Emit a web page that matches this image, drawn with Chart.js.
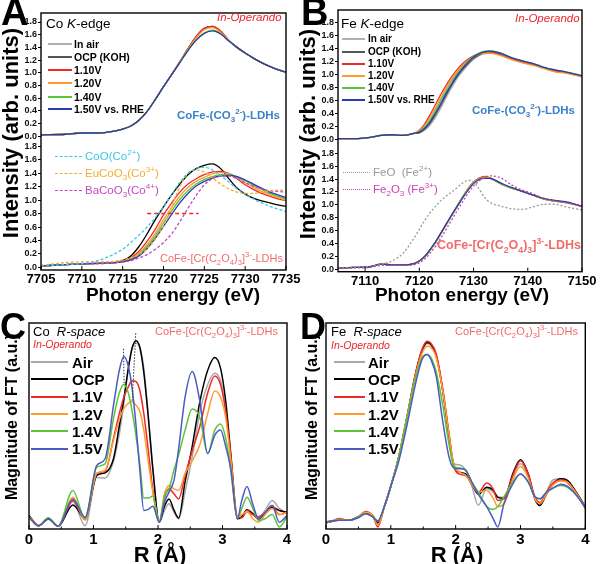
<!DOCTYPE html>
<html><head><meta charset="utf-8">
<script src="https://cdn.jsdelivr.net/npm/chart.js@4.4.1/dist/chart.umd.min.js"></script>
<style>
html,body{margin:0;padding:0;background:#fff;}
#wrap{position:relative;width:600px;height:564px;overflow:hidden;font-family:"Liberation Sans",Arial,sans-serif;color:#000;}
canvas{position:absolute;}
.t{position:absolute;white-space:nowrap;line-height:1;}
.ln{position:absolute;height:0;}
sub,sup{font-size:70%;line-height:0;}
</style></head><body>
<div id="wrap">
<canvas id="cA" width="310" height="292" style="left:0;top:0;width:310px;height:292px"></canvas>
<canvas id="cB" width="300" height="292" style="left:300px;top:0;width:300px;height:292px"></canvas>
<canvas id="cC" width="300" height="264" style="left:0;top:300px;width:300px;height:264px"></canvas>
<canvas id="cD" width="300" height="264" style="left:300px;top:300px;width:300px;height:264px"></canvas>
</div>
<script>
// ---------------- DATA ----------------
// Panel A (Co K-edge), photon energy grid (eV)
const xA = [7705,7708,7710,7712,7714,7715,7716,7717,7718,7719,7720,7721,7722,7723,7724,7725,7726,7727,7728,7729,7730,7731,7732,7733,7734,7735];
const xTicksA = [7705,7710,7715,7720,7725,7730,7735];
const yTicksK = [0,0.2,0.4,0.6,0.8,1.0,1.2,1.4,1.6,1.8];
// A top: CoFe-(CO3)-LDHs
const aTopAir    = [0.02,0.03,0.05,0.05,0.08,0.11,0.16,0.25,0.39,0.58,0.78,0.97,1.17,1.38,1.56,1.69,1.72,1.65,1.51,1.40,1.31,1.23,1.16,1.10,1.05,1.01];
const aTopOCP    = [0.02,0.03,0.05,0.05,0.08,0.11,0.16,0.25,0.39,0.58,0.78,0.97,1.17,1.38,1.57,1.70,1.73,1.65,1.51,1.40,1.31,1.23,1.16,1.10,1.05,1.01];
const aTop110    = [0.02,0.03,0.05,0.05,0.08,0.11,0.16,0.25,0.39,0.58,0.78,0.97,1.17,1.38,1.57,1.70,1.73,1.66,1.51,1.40,1.31,1.23,1.16,1.10,1.05,1.01];
const aTop120    = [0.02,0.03,0.05,0.05,0.08,0.11,0.16,0.25,0.39,0.58,0.78,0.97,1.17,1.37,1.55,1.68,1.71,1.64,1.51,1.40,1.31,1.23,1.16,1.10,1.05,1.01];
const aTop140    = [0.02,0.03,0.05,0.05,0.08,0.11,0.16,0.25,0.39,0.58,0.78,0.97,1.16,1.36,1.52,1.63,1.67,1.62,1.50,1.40,1.31,1.23,1.16,1.10,1.05,1.01];
const aTop150    = [0.02,0.03,0.05,0.05,0.08,0.11,0.16,0.25,0.39,0.58,0.78,0.97,1.16,1.35,1.51,1.62,1.66,1.61,1.50,1.40,1.31,1.23,1.16,1.10,1.05,1.01];
// A bottom: CoFe-[Cr(C2O4)3]-LDHs and references
const aBotOCP    = [0.02,0.04,0.05,0.06,0.07,0.10,0.17,0.31,0.50,0.71,0.90,1.08,1.24,1.38,1.47,1.52,1.54,1.47,1.32,1.18,1.09,1.03,0.99,0.96,0.93,0.91];
const aBot110    = [0.02,0.04,0.05,0.06,0.07,0.09,0.14,0.24,0.39,0.57,0.78,0.96,1.12,1.24,1.32,1.38,1.42,1.43,1.40,1.32,1.23,1.16,1.10,1.06,1.02,0.99];
const aBot120    = [0.02,0.04,0.05,0.06,0.07,0.09,0.13,0.21,0.34,0.51,0.71,0.89,1.06,1.19,1.28,1.34,1.39,1.41,1.40,1.34,1.26,1.19,1.13,1.08,1.04,1.00];
const aBot140    = [0.02,0.04,0.05,0.06,0.07,0.08,0.12,0.19,0.31,0.47,0.66,0.84,1.01,1.14,1.24,1.31,1.35,1.38,1.38,1.35,1.29,1.22,1.16,1.10,1.06,1.02];
const aBot150    = [0.02,0.04,0.05,0.06,0.07,0.08,0.11,0.17,0.28,0.43,0.61,0.79,0.96,1.10,1.21,1.28,1.33,1.36,1.37,1.35,1.30,1.24,1.18,1.12,1.08,1.04];
const aCoO       = [0.02,0.04,0.06,0.10,0.20,0.27,0.37,0.48,0.60,0.74,0.90,1.08,1.27,1.40,1.47,1.49,1.45,1.37,1.27,1.17,1.09,1.02,0.96,0.91,0.87,0.83];
const aEuCoO3    = [0.03,0.07,0.08,0.08,0.09,0.11,0.14,0.19,0.28,0.42,0.62,0.90,1.20,1.40,1.45,1.42,1.33,1.24,1.17,1.12,1.10,1.10,1.12,1.14,1.15,1.15];
const aBaCoO3    = [0.02,0.04,0.05,0.05,0.07,0.08,0.10,0.14,0.19,0.27,0.37,0.50,0.68,0.88,1.07,1.23,1.32,1.36,1.36,1.32,1.26,1.21,1.17,1.14,1.13,1.12];
const aGuideX    = [7718,7724.3];
const aGuideY    = [0.8,0.8];

// Panel B (Fe K-edge)
const xB = [7105,7108,7111,7113,7115,7117,7119,7120,7121,7122,7123,7124,7125,7126,7127,7128,7129,7130,7131,7132,7133,7135,7137,7139,7141,7143,7145,7147,7150];
const xTicksB = [7110,7120,7130,7140,7150];
const bTopAir = [0.01,0.01,0.03,0.06,0.07,0.06,0.09,0.10,0.14,0.22,0.34,0.49,0.65,0.80,0.94,1.05,1.15,1.23,1.29,1.32,1.33,1.31,1.25,1.20,1.16,1.10,1.06,1.03,0.97];
const bTopOCP = [0.01,0.01,0.03,0.06,0.07,0.06,0.09,0.10,0.16,0.25,0.38,0.53,0.69,0.84,0.97,1.08,1.17,1.25,1.30,1.34,1.35,1.32,1.25,1.20,1.16,1.10,1.06,1.03,0.97];
const bTop110 = [0.01,0.01,0.03,0.06,0.07,0.06,0.09,0.14,0.24,0.38,0.54,0.70,0.84,0.97,1.08,1.17,1.24,1.29,1.32,1.34,1.34,1.30,1.24,1.19,1.15,1.10,1.05,1.03,0.97];
const bTop120 = [0.01,0.01,0.03,0.06,0.07,0.06,0.09,0.13,0.21,0.34,0.49,0.65,0.80,0.93,1.05,1.14,1.22,1.27,1.31,1.33,1.33,1.29,1.23,1.18,1.14,1.09,1.04,1.02,0.96];
const bTop140 = [0.01,0.01,0.03,0.06,0.07,0.06,0.09,0.12,0.19,0.30,0.45,0.61,0.76,0.90,1.02,1.12,1.21,1.28,1.33,1.36,1.37,1.33,1.26,1.21,1.17,1.11,1.07,1.04,0.98];
const bTop150 = [0.01,0.01,0.03,0.06,0.07,0.06,0.09,0.11,0.17,0.27,0.41,0.56,0.72,0.86,0.99,1.10,1.19,1.27,1.32,1.35,1.36,1.33,1.26,1.21,1.17,1.11,1.07,1.04,0.98];
const bBotOCP = [0.02,0.03,0.04,0.08,0.07,0.07,0.09,0.13,0.20,0.30,0.42,0.56,0.70,0.84,0.98,1.12,1.25,1.35,1.41,1.43,1.42,1.33,1.26,1.21,1.15,1.09,1.06,1.04,0.98];
const bBot110 = [0.02,0.03,0.04,0.08,0.07,0.07,0.09,0.13,0.20,0.30,0.42,0.56,0.70,0.84,0.98,1.12,1.25,1.35,1.41,1.44,1.42,1.33,1.26,1.21,1.15,1.09,1.06,1.04,0.98];
const bBot120 = [0.02,0.03,0.04,0.08,0.07,0.07,0.09,0.13,0.20,0.30,0.42,0.56,0.70,0.84,0.98,1.12,1.25,1.35,1.40,1.43,1.41,1.33,1.26,1.21,1.15,1.09,1.06,1.04,0.97];
const bBot140 = [0.02,0.03,0.04,0.08,0.07,0.07,0.09,0.13,0.20,0.30,0.42,0.56,0.70,0.84,0.98,1.12,1.24,1.34,1.40,1.42,1.41,1.33,1.26,1.21,1.15,1.09,1.06,1.04,0.98];
const bBot150 = [0.02,0.03,0.04,0.08,0.07,0.07,0.09,0.13,0.20,0.31,0.43,0.57,0.71,0.85,0.98,1.11,1.23,1.33,1.39,1.41,1.41,1.34,1.27,1.21,1.15,1.10,1.07,1.05,0.98];
const bFeO    = [0.02,0.03,0.05,0.08,0.13,0.25,0.48,0.62,0.76,0.88,0.98,1.07,1.14,1.20,1.27,1.34,1.38,1.36,1.25,1.12,1.04,0.98,0.94,0.93,0.97,1.01,1.01,0.97,0.92];
const bFe2O3  = [0.01,0.02,0.03,0.06,0.06,0.06,0.07,0.10,0.16,0.25,0.36,0.49,0.63,0.77,0.91,1.05,1.18,1.29,1.37,1.42,1.45,1.42,1.31,1.23,1.17,1.10,1.06,1.03,0.98];

// Panel C (Co R-space), R grid (Å), magnitude in arbitrary units
const rC = [0,0.15,0.30,0.45,0.68,0.87,1.05,1.18,1.31,1.40,1.47,1.54,1.60,1.66,1.72,1.78,1.85,1.92,2.02,2.10,2.17,2.25,2.32,2.42,2.53,2.65,2.77,2.88,2.97,3.05,3.13,3.23,3.30,3.38,3.47,3.56,3.66,3.77,3.88,4.0];
const xTicksR = [0,1,2,3,4];
const cAir = [0.65,0.16,0.49,0.13,1.33,0.16,2.5,2.47,3.3,4.6,6.1,7.8,8.8,9.02,8.8,7.8,5.5,3.0,0.33,0.9,1.22,0.8,0.49,1.8,3.5,5.7,7.0,7.56,7.2,5.8,3.3,0.5,0.55,0.81,0.7,0.55,0.9,1.38,1.0,0.75];
const cOCP = [0.65,0.16,0.49,0.13,1.17,0.52,2.6,2.73,3.41,5.0,6.3,7.8,8.8,9.14,8.8,7.6,5.4,2.9,0.33,1.1,1.46,0.9,0.54,2.3,4.0,6.2,7.7,8.33,7.8,6.2,3.6,0.5,0.6,0.93,0.75,0.49,0.75,1.06,0.9,0.81];
const c110 = [0.6,0.16,0.52,0.13,1.38,0.45,2.7,2.8,4.4,5.6,6.4,6.9,7.2,7.15,6.7,5.6,3.8,1.9,0.35,1.5,1.95,1.7,1.46,2.6,3.8,5.0,6.6,7.43,7.0,5.7,3.5,0.6,0.55,0.9,0.7,0.6,0.8,1.14,0.7,0.8];
const c120 = [0.6,0.16,0.52,0.13,1.54,0.45,2.7,2.85,4.3,5.3,5.85,6.1,6.18,6.0,5.69,4.8,3.25,1.8,0.35,1.7,2.11,1.95,1.87,2.7,3.3,4.1,5.6,6.7,6.4,5.4,3.3,0.6,0.7,0.85,0.5,0.33,0.7,1.0,0.7,0.8];
const c140 = [0.55,0.16,0.55,0.13,1.87,0.5,3.0,3.17,5.37,6.6,7.02,6.6,5.7,4.5,3.1,1.5,1.5,1.6,0.35,1.6,1.95,2.9,3.6,4.8,5.82,5.4,3.66,4.8,5.1,4.4,2.8,0.5,1.0,1.54,1.0,0.41,0.5,0.7,0.1,0.6];
const c150 = [0.57,0.16,0.5,0.13,1.46,0.57,3.09,3.41,6.0,7.7,8.37,7.9,6.8,5.0,2.8,0.9,0.95,1.1,0.33,1.3,1.79,2.4,3.9,6.4,7.64,6.18,3.66,4.55,4.8,4.0,2.9,0.5,1.4,2.06,1.2,0.49,0.8,1.14,0.33,0.65];
const cGuide1X = [1.465,1.475], cGuide1Y = [8.75,7.0];
const cGuide2X = [1.655,1.60],  cGuide2Y = [9.5,6.2];

// Panel D (Fe R-space)
const rD = [0,0.1,0.2,0.35,0.5,0.61,0.72,0.80,0.9,1.0,1.12,1.25,1.38,1.48,1.56,1.62,1.70,1.80,1.90,1.97,2.05,2.15,2.25,2.35,2.48,2.58,2.65,2.75,2.88,3.0,3.12,3.22,3.30,3.40,3.50,3.62,3.72,3.85,4.0];
const dAir = [0.22,0.28,0.33,0.33,0.5,0.7,0.55,0.25,1.0,2.0,3.41,5.4,7.4,8.6,9.0,8.9,8.4,6.7,4.5,3.1,3.05,2.8,2.0,1.06,1.9,1.7,1.5,1.45,2.5,3.1,2.5,1.4,1.1,1.7,2.3,2.36,2.2,1.7,0.95];
const dOCP = [0.2,0.28,0.35,0.33,0.5,0.7,0.55,0.2,1.0,2.0,3.41,5.4,7.5,8.65,9.05,8.95,8.4,6.7,4.4,3.0,2.7,2.6,2.1,1.6,1.95,1.8,1.45,1.4,2.6,3.3,2.6,1.4,1.05,1.6,2.1,2.36,2.3,1.75,1.0];
const d110 = [0.2,0.3,0.41,0.33,0.5,0.76,0.55,0.0,1.0,2.0,3.41,5.4,7.5,8.7,9.1,9.0,8.5,6.8,4.5,3.0,2.6,2.52,2.1,1.7,2.15,1.85,1.3,1.4,2.5,3.25,2.6,1.5,1.2,1.7,2.15,2.3,2.2,1.7,0.9];
const d120 = [0.2,0.3,0.38,0.33,0.5,0.72,0.55,0.1,1.0,2.0,3.41,5.4,7.4,8.5,8.86,8.8,8.3,6.7,4.5,3.1,2.7,2.55,2.1,1.7,1.8,1.4,1.0,1.15,2.3,2.96,2.4,1.4,1.15,1.6,2.05,2.25,2.2,1.7,0.95];
const d140 = [0.25,0.3,0.33,0.33,0.5,0.65,0.5,0.3,1.0,2.0,3.41,5.4,7.3,8.3,8.46,8.3,7.6,6.0,4.0,3.0,2.9,2.8,2.2,1.7,1.0,0.85,1.0,1.5,2.2,2.6,2.2,1.5,1.38,1.7,1.9,2.03,1.95,1.6,1.0];
const d150 = [0.25,0.3,0.33,0.33,0.45,0.65,0.5,0.29,1.0,2.0,3.2,5.0,7.0,8.2,8.46,8.2,7.4,5.2,3.4,2.9,2.85,2.8,2.2,1.6,1.0,0.4,0.0,1.2,2.1,2.6,2.2,1.5,1.38,1.7,1.9,2.1,2.0,1.6,0.95];

// ---------------- STYLE ----------------
const COL = {air:'#b0b0b0', ocp:'#222222', v110:'#f02828', v120:'#ff9a2e', v140:'#5cc43c', v150:'#2b3cb0',
  v150r:'#4a5cc4', cyan:'#3fc6e4', eu:'#f5ae2a', ba:'#c24ac4', feo:'#999999', fe2o3:'#d040b0',
  red:'#e8262c', blueTxt:'#3b82c8', salmon:'#f26b6b'};
Chart.defaults.font.family = '"Liberation Sans", Arial, sans-serif';
Chart.defaults.color = '#000';

function lineDs(label, xs, ys, color, yAxisID, extra) {
  return Object.assign({label, data: xs.map((x,i)=>({x:x, y:ys[i]})), borderColor: color, backgroundColor: color,
    borderWidth: 1.3, pointRadius: 0, pointHoverRadius: 0, fill: false, cubicInterpolationMode: 'monotone', yAxisID}, extra||{});
}
function fixedTicks(arr){ return s => { s.ticks = arr.map(v=>({value:v})); }; }
function kAxis(min,max,weight,width){
  return {type:'linear', position:'left', stack:'k', stackWeight:weight, min:min, max:max,
    afterBuildTicks: fixedTicks(yTicksK), afterFit: s=>{ s.width = width; },
    border:{display:false},
    grid:{display:true, drawOnChartArea:false, drawTicks:true, tickLength:3, color:'#000', lineWidth:1},
    ticks:{autoSkip:false, padding:1, font:{size:9, weight:'bold'}, color:'#111', callback: v=>Number(v).toFixed(1)}};
}
function xAxis(min,max,ticks,height,fs){
  return {type:'linear', min:min, max:max, afterBuildTicks: fixedTicks(ticks), afterFit: s=>{ s.height = height; },
    border:{display:false}, grid:{display:false, drawTicks:false},
    ticks:{autoSkip:false, maxRotation:0, padding:2, font:{size:fs, weight:'bold'}, color:'#000', callback: v=>String(v)}};
}
function rYAxis(min,max,width){
  return {type:'linear', position:'left', min:min, max:max, afterFit: s=>{ s.width = width; },
    border:{display:false}, grid:{display:false, drawTicks:false}, ticks:{display:false}};
}
const framePlugin = {
  id:'frame',
  afterDraw(chart, args, opts){
    const ctx = chart.ctx, a = chart.chartArea, xs = chart.scales.x;
    ctx.save();
    ctx.strokeStyle = '#000'; ctx.lineWidth = 1.4;
    ctx.strokeRect(a.left, a.top, a.right-a.left, a.bottom-a.top);
    ctx.lineWidth = 1;
    (opts.major||[]).forEach(v=>{ const p = xs.getPixelForValue(v); ctx.beginPath(); ctx.moveTo(p,a.bottom); ctx.lineTo(p,a.bottom-4); ctx.stroke(); });
    (opts.minor||[]).forEach(v=>{ const p = xs.getPixelForValue(v); ctx.beginPath(); ctx.moveTo(p,a.bottom); ctx.lineTo(p,a.bottom-2.5); ctx.stroke(); });
    ctx.restore();
  }
};
function baseOpts(padding, scales, frameOpts){
  return {responsive:false, animation:false, events:[], layout:{padding:padding},
    plugins:{legend:{display:false}, tooltip:{enabled:false}, frame:frameOpts}, scales:scales};
}
const dash = {borderDash:[3,2]};
const dot = {borderDash:[2,2]};

// ---------------- CHART A ----------------
new Chart(document.getElementById('cA'), {
  type:'line',
  data:{datasets:[
    lineDs('1.50V vs. RHE', xA, aTop150, COL.v150, 'yTop'),
    lineDs('1.40V', xA, aTop140, COL.v140, 'yTop'),
    lineDs('1.20V', xA, aTop120, COL.v120, 'yTop'),
    lineDs('1.10V', xA, aTop110, COL.v110, 'yTop'),
    lineDs('OCP (KOH)', xA, aTopOCP, COL.ocp, 'yTop'),
    lineDs('In air', xA, aTopAir, COL.air, 'yTop'),
    lineDs('guide', aGuideX, aGuideY, COL.v110, 'yBot', {borderDash:[4,3], borderWidth:1.5}),
    lineDs('CoO(Co2+)', xA, aCoO, COL.cyan, 'yBot', dash),
    lineDs('EuCoO3(Co3+)', xA, aEuCoO3, COL.eu, 'yBot', dash),
    lineDs('BaCoO3(Co4+)', xA, aBaCoO3, COL.ba, 'yBot', dash),
    lineDs('1.50V', xA, aBot150, COL.v150, 'yBot'),
    lineDs('1.40V', xA, aBot140, COL.v140, 'yBot'),
    lineDs('1.20V', xA, aBot120, COL.v120, 'yBot'),
    lineDs('1.10V', xA, aBot110, COL.v110, 'yBot'),
    lineDs('OCP', xA, aBotOCP, '#000', 'yBot')
  ]},
  options: baseOpts({left:0, right:24, top:13, bottom:0},
    {x: xAxis(7705,7735,xTicksA,22,13), yBot: kAxis(-0.04,1.894,130,41), yTop: kAxis(-0.063,1.942,127.3,41)},
    {major:xTicksA}),
  plugins:[framePlugin]
});

// ---------------- CHART B ----------------
new Chart(document.getElementById('cB'), {
  type:'line',
  data:{datasets:[
    lineDs('1.50V vs. RHE', xB, bTop150, COL.v150, 'yTop'),
    lineDs('1.40V', xB, bTop140, COL.v140, 'yTop'),
    lineDs('1.20V', xB, bTop120, COL.v120, 'yTop'),
    lineDs('1.10V', xB, bTop110, COL.v110, 'yTop'),
    lineDs('OCP (KOH)', xB, bTopOCP, '#555', 'yTop'),
    lineDs('In air', xB, bTopAir, COL.air, 'yTop'),
    lineDs('Fe2O3 (Fe3+)', xB, bFe2O3, COL.fe2o3, 'yBot', dot),
    lineDs('FeO (Fe2+)', xB, bFeO, COL.feo, 'yBot', dot),
    lineDs('1.50V', xB, bBot150, COL.v150, 'yBot'),
    lineDs('1.40V', xB, bBot140, COL.v140, 'yBot'),
    lineDs('1.20V', xB, bBot120, COL.v120, 'yBot'),
    lineDs('1.10V', xB, bBot110, COL.v110, 'yBot'),
    lineDs('OCP', xB, bBotOCP, '#555', 'yBot')
  ]},
  options: baseOpts({left:0, right:18, top:10, bottom:0},
    {x: xAxis(7105,7150,xTicksB,20.3,13), yBot: kAxis(-0.037,1.929,126.7,38), yTop: kAxis(-0.088,1.996,135,38)},
    {major:xTicksB}),
  plugins:[framePlugin]
});

// ---------------- CHART C ----------------
new Chart(document.getElementById('cC'), {
  type:'line',
  data:{datasets:[
    lineDs('g1', cGuide1X, cGuide1Y, '#333', 'y', {borderDash:[1.5,1.5], borderWidth:1, cubicInterpolationMode:'default', tension:0}),
    lineDs('g2', cGuide2X, cGuide2Y, '#333', 'y', {borderDash:[1.5,1.5], borderWidth:1, cubicInterpolationMode:'default', tension:0}),
    lineDs('1.5V', rC, c150, COL.v150r, 'y', {borderWidth:1.5}),
    lineDs('1.4V', rC, c140, COL.v140, 'y', {borderWidth:1.5}),
    lineDs('1.2V', rC, c120, COL.v120, 'y', {borderWidth:1.5}),
    lineDs('1.1V', rC, c110, COL.v110, 'y', {borderWidth:1.5}),
    lineDs('OCP', rC, cOCP, '#000', 'y', {borderWidth:1.5}),
    lineDs('Air', rC, cAir, '#a8a8a8', 'y', {borderWidth:1.5})
  ]},
  options: baseOpts({left:0, right:13, top:23, bottom:0},
    {x: xAxis(0,4,xTicksR,35,15), y: rYAxis(0,10,29)},
    {major:xTicksR, minor:[0.5,1.5,2.5,3.5]}),
  plugins:[framePlugin]
});

// ---------------- CHART D ----------------
new Chart(document.getElementById('cD'), {
  type:'line',
  data:{datasets:[
    lineDs('1.5V', rD, d150, COL.v150r, 'y', {borderWidth:1.5}),
    lineDs('1.4V', rD, d140, COL.v140, 'y', {borderWidth:1.5}),
    lineDs('1.2V', rD, d120, COL.v120, 'y', {borderWidth:1.5}),
    lineDs('1.1V', rD, d110, COL.v110, 'y', {borderWidth:1.5}),
    lineDs('OCP', rD, dOCP, '#000', 'y', {borderWidth:1.5}),
    lineDs('Air', rD, dAir, '#a8a8a8', 'y', {borderWidth:1.5})
  ]},
  options: baseOpts({left:0, right:14.7, top:23, bottom:0},
    {x: xAxis(0,4,xTicksR,35,15), y: rYAxis(-0.1,10,26)},
    {major:xTicksR, minor:[0.5,1.5,2.5,3.5]}),
  plugins:[framePlugin]
});

// ---------------- TEXT OVERLAYS ----------------
const wrap = document.getElementById('wrap');
function T(x, base, fs, html, css, center){
  const d = document.createElement('div'); d.className = 't'; d.innerHTML = html;
  d.style.cssText = 'left:'+x+'px;top:'+(base-0.85*fs)+'px;font-size:'+fs+'px;'+(css||'')+(center?'transform:translateX(-50%);':'');
  wrap.appendChild(d);
}
function V(cx, cy, fs, html, css){
  const d = document.createElement('div'); d.className = 't'; d.innerHTML = html;
  d.style.cssText = 'left:'+cx+'px;top:'+cy+'px;font-size:'+fs+'px;transform:translate(-50%,-50%) rotate(-90deg);'+(css||'');
  wrap.appendChild(d);
}
function L(x1, x2, y, color, w, style){
  const d = document.createElement('div'); d.className = 'ln';
  d.style.cssText = 'left:'+x1+'px;top:'+(y-w/2)+'px;width:'+(x2-x1)+'px;border-top:'+w+'px '+(style||'solid')+' '+color+';';
  wrap.appendChild(d);
}
function legend(rows, x1, x2, tx, fs, items, css, lw, style){
  items.forEach((it,i)=>{ L(x1, x2, rows[i], it[1], lw, style); T(tx, rows[i]+0.36*fs, fs, it[0], (css||'')+(it[2]||'')); });
}
const B = 'font-weight:bold;';
// panel letters
T(1, 25, 38, 'A', B); T(301, 25, 38, 'B', B); T(0, 340, 36, 'C', B); T(300, 340, 36, 'D', B);
// axis titles
V(11, 133, 22, 'Intensity (arb. units)', B); V(308, 134, 22, 'Intensity (arb. units)', B);
T(173, 301, 19, 'Photon energy (eV)', B, true); T(462, 301, 19, 'Photon energy (eV)', B, true);
V(12, 417, 16, 'Magnitude of FT (a.u.)', B); V(312, 417, 16, 'Magnitude of FT (a.u.)', B);
T(160, 563, 22, 'R (&Aring;)', B, true); T(457, 563, 22, 'R (&Aring;)', B, true);
// panel A texts
T(46, 28, 13.5, 'Co <i>K</i>-edge');
T(217, 22, 11.5, '<i>In-Operando</i>', 'color:'+COL.red+';');
T(177, 120, 11.5, 'CoFe-(CO<sub>3</sub><sup>2-</sup>)-LDHs', B+'color:'+COL.blueTxt+';');
T(160, 262, 11, 'CoFe-[Cr(C<sub>2</sub>O<sub>4</sub>)<sub>3</sub>]<sup>3-</sup>-LDHs', 'color:'+COL.salmon+';');
legend([44.3,57.3,70,83.3,96.7,109.3], 48, 72, 74, 10.5,
  [['In air',COL.air],['OCP (KOH)','#555'],['1.10V',COL.v110],['1.20V',COL.v120],['1.40V',COL.v140],['1.50V vs. RHE',COL.v150]], B, 2);
legend([156.7,173.3,191], 55, 82, 85, 11.5,
  [['CoO(Co<sup>2+</sup>)',COL.cyan,'color:'+COL.cyan+';'],['EuCoO<sub>3</sub>(Co<sup>3+</sup>)',COL.eu,'color:'+COL.eu+';'],['BaCoO<sub>3</sub>(Co<sup>4+</sup>)',COL.ba,'color:'+COL.ba+';']], '', 1.5, 'dashed');
// panel B texts
T(341, 28, 13.5, 'Fe <i>K</i>-edge');
T(515, 23, 11.5, '<i>In-Operando</i>', 'color:'+COL.red+';');
T(472, 115, 11.5, 'CoFe-(CO<sub>3</sub><sup>2-</sup>)-LDHs', B+'color:'+COL.blueTxt+';');
T(437, 250, 12.5, 'CoFe-[Cr(C<sub>2</sub>O<sub>4</sub>)<sub>3</sub>]<sup>3-</sup>-LDHs', B+'color:'+COL.salmon+';');
legend([39.3,51.7,64,76,87.7,100], 342, 365, 368, 10,
  [['In air',COL.air],['OCP (KOH)','#555'],['1.10V',COL.v110],['1.20V',COL.v120],['1.40V',COL.v140],['1.50V vs. RHE',COL.v150]], B, 2);
legend([172.3,190], 343, 370, 373, 11.5,
  [['FeO&nbsp;&nbsp;(Fe<sup>2+</sup>)',COL.feo,'color:'+COL.feo+';'],['Fe<sub>2</sub>O<sub>3</sub> (Fe<sup>3+</sup>)',COL.fe2o3,'color:'+COL.fe2o3+';']], '', 1.5, 'dotted');
// panel C texts
T(33, 336, 13, 'Co&nbsp;&nbsp;<i>R-space</i>');
T(33, 348, 10.5, '<i>In-Operando</i>', 'color:'+COL.red+';');
T(155, 335, 11, 'CoFe-[Cr(C<sub>2</sub>O<sub>4</sub>)<sub>3</sub>]<sup>3-</sup>-LDHs', 'color:'+COL.salmon+';');
const rowsR = [362,379.3,396.6,413.9,431.2,448.5];
const itemsR = [['Air','#a8a8a8'],['OCP','#000'],['1.1V',COL.v110],['1.2V',COL.v120],['1.4V',COL.v140],['1.5V',COL.v150r]];
legend(rowsR, 31, 68, 72, 15, itemsR, B, 2);
// panel D texts
T(331, 336, 13, 'Fe&nbsp;&nbsp;<i>R-space</i>');
T(331, 349, 10.5, '<i>In-Operando</i>', 'color:'+COL.red+';');
T(455, 335, 11, 'CoFe-[Cr(C<sub>2</sub>O<sub>4</sub>)<sub>3</sub>]<sup>3-</sup>-LDHs', 'color:'+COL.salmon+';');
legend(rowsR, 334, 365, 368, 15, itemsR, B, 2);
</script>
</body></html>
